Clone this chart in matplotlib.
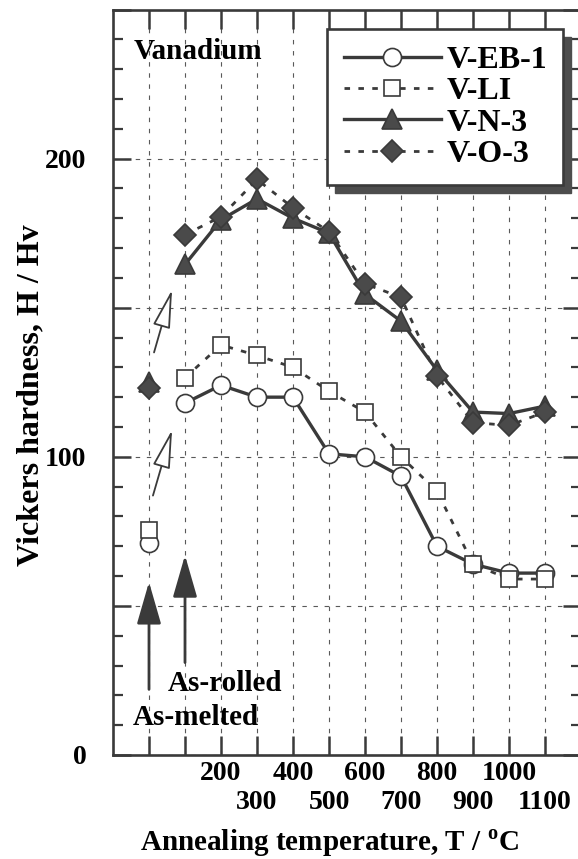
import matplotlib
matplotlib.use('Agg')
import matplotlib.pyplot as plt
from matplotlib.patches import Rectangle
import numpy as np

plt.rcParams['font.family'] = ['Liberation Serif', 'DejaVu Serif']
plt.rcParams['font.weight'] = 'bold'
plt.rcParams['mathtext.fontset'] = 'custom'
plt.rcParams['mathtext.rm'] = 'Liberation Serif:bold'
plt.rcParams['mathtext.bf'] = 'Liberation Serif:bold'

# as-rolled sits at the 100 column, then annealing temperatures
temps = [100, 200, 300, 400, 500, 600, 700, 800, 900, 1000, 1100]
melted_pos = 0

eb1 = [118, 124, 120, 120, 101, 100, 93.5, 70, 64, 61, 61]
li = [126.5, 137.5, 134, 130, 122, 115, 100, 88.5, 64, 59, 59]
n3 = [164.5, 179.5, 186.5, 180, 175, 154.5, 145.5, 129, 115, 114.5, 117]
o3 = [174.5, 180.5, 193, 183.5, 175.5, 158, 153.5, 127, 111.5, 110.5, 115]

eb1_melted = 71
li_melted = 75.5
n3_melted = 125
o3_melted = 123

# two staggered rows of x labels
row1_pos = [0, 100, 200, 400, 600, 800, 1000]
row1_labels = ['', '', '200', '400', '600', '800', '1000']
row2_pos = [300, 500, 700, 900, 1100]
row2_labels = ['300', '500', '700', '900', '1100']

dark = '#3a3a3a'
fill = '#4a4a4a'
fs = 20

fig = plt.figure(figsize=(5.78, 8.59), dpi=100)
ax = fig.add_axes([113 / 578, 104 / 859, 468 / 578, 745.5 / 859])

styles = [
    ('V-EB-1', eb1, eb1_melted, dict(marker='o', ms=13, mfc='white', ls='-', lw=2.4)),
    ('V-LI', li, li_melted, dict(marker='s', ms=12, mfc='white', ls=(0, (2, 3)), lw=2.0)),
    ('V-N-3', n3, n3_melted, dict(marker='^', ms=14, mfc=fill, ls='-', lw=2.4)),
    ('V-O-3', o3, o3_melted, dict(marker='D', ms=11, mfc=fill, ls=(0, (2, 3)), lw=2.0)),
]
for name, vals, mv, st in styles:
    ax.plot(temps, vals, color=dark, mec=dark, mew=1.2, label=name, zorder=3, **st)
    st2 = dict(st)
    st2['ls'] = 'none'
    ax.plot([melted_pos], [mv], color=dark, mec=dark, mew=1.2, zorder=3, **st2)

ax.set_xlim(-100, 1200)
ax.set_ylim(0, 250)

ax.set_xticks(row1_pos)
ax.set_xticklabels(row1_labels, fontsize=fs)
ax.set_xticks(row2_pos, minor=True)
ax.set_xticklabels(row2_labels, minor=True, fontsize=fs)
ax.set_yticks(np.arange(0, 251, 50))
ax.set_yticklabels(['0', '', '100', '', '200', ''], fontsize=fs)
ax.set_yticks(np.arange(0, 251, 10), minor=True)

ax.tick_params(axis='x', which='major', direction='in', length=14, width=1.8,
               top=True, pad=4, color=dark)
ax.tick_params(axis='x', which='minor', direction='in', length=14, width=1.8,
               top=True, pad=25, color=dark)
ax.tick_params(axis='y', which='major', direction='in', length=13, width=1.8,
               right=True, pad=19, color=dark)
ax.tick_params(axis='y', which='minor', direction='in', length=7, width=1.6,
               right=True, color=dark)
for s in ax.spines.values():
    s.set_linewidth(1.9)
    s.set_color(dark)

ax.xaxis.grid(True, which='both', ls=(0, (4, 6)), lw=0.8, color='0.35')
ax.yaxis.grid(True, which='major', ls=(0, (4, 6)), lw=0.8, color='0.35')

ax.set_xlabel(r'Annealing temperature, T / $^{\mathbf{o}}$C', fontsize=21,
              fontweight='bold')
ax.xaxis.set_label_coords(0.462, -0.097)
ax.set_ylabel('Vickers hardness, H / Hv', fontsize=23, fontweight='bold')
ax.yaxis.set_label_coords(-0.145, 0.483)

ax.text(-44, 236, 'Vanadium', fontsize=21, va='center', ha='left')
ax.text(53, 24, 'As-rolled', fontsize=21, va='center', ha='left')
ax.text(-44, 12.7, 'As-melted', fontsize=21, va='center', ha='left')

# solid arrows marking the two reference states
for x, y0, y1 in [(0, 22, 58), (100, 31, 67)]:
    ax.annotate('', xy=(x, y1), xytext=(x, y0),
                arrowprops=dict(arrowstyle='-|>,head_length=2.6,head_width=0.75',
                                mutation_scale=10, color=dark, lw=2,
                                shrinkA=0, shrinkB=0))
# hollow arrows from as-melted to as-rolled
for x0, y0, x1, y1 in [(11, 87, 64, 109), (14, 135, 64, 156)]:
    ax.annotate('', xy=(x1, y1), xytext=(x0, y0),
                arrowprops=dict(arrowstyle='-|>,head_length=2.4,head_width=0.55',
                                mutation_scale=10, fc='white', ec=dark, lw=1.3,
                                shrinkA=0, shrinkB=0))

leg = ax.legend(loc='upper left',
                bbox_to_anchor=(327 / 578, 1 - 185 / 859, 236 / 578, 156 / 859),
                bbox_transform=fig.transFigure, mode='expand', borderaxespad=0,
                fontsize=23, handlelength=3.05, handletextpad=0.16,
                labelspacing=0.06, borderpad=0.52, fancybox=False,
                framealpha=1, numpoints=1)
leg.get_frame().set_edgecolor(dark)
leg.get_frame().set_linewidth(1.9)

fig.canvas.draw()
bb = leg.get_window_extent()
(ax0, ay0), (ax1, ay1) = ax.transAxes.inverted().transform([[bb.x0 + 8, bb.y0 - 8],
                                                            [bb.x1 + 8, bb.y1 - 8]])
ax.add_patch(Rectangle((ax0, ay0), ax1 - ax0, ay1 - ay0, transform=ax.transAxes,
                       color='0.3', zorder=4.9, clip_on=False))

plt.savefig('out.png', dpi=100)
plt.close()
